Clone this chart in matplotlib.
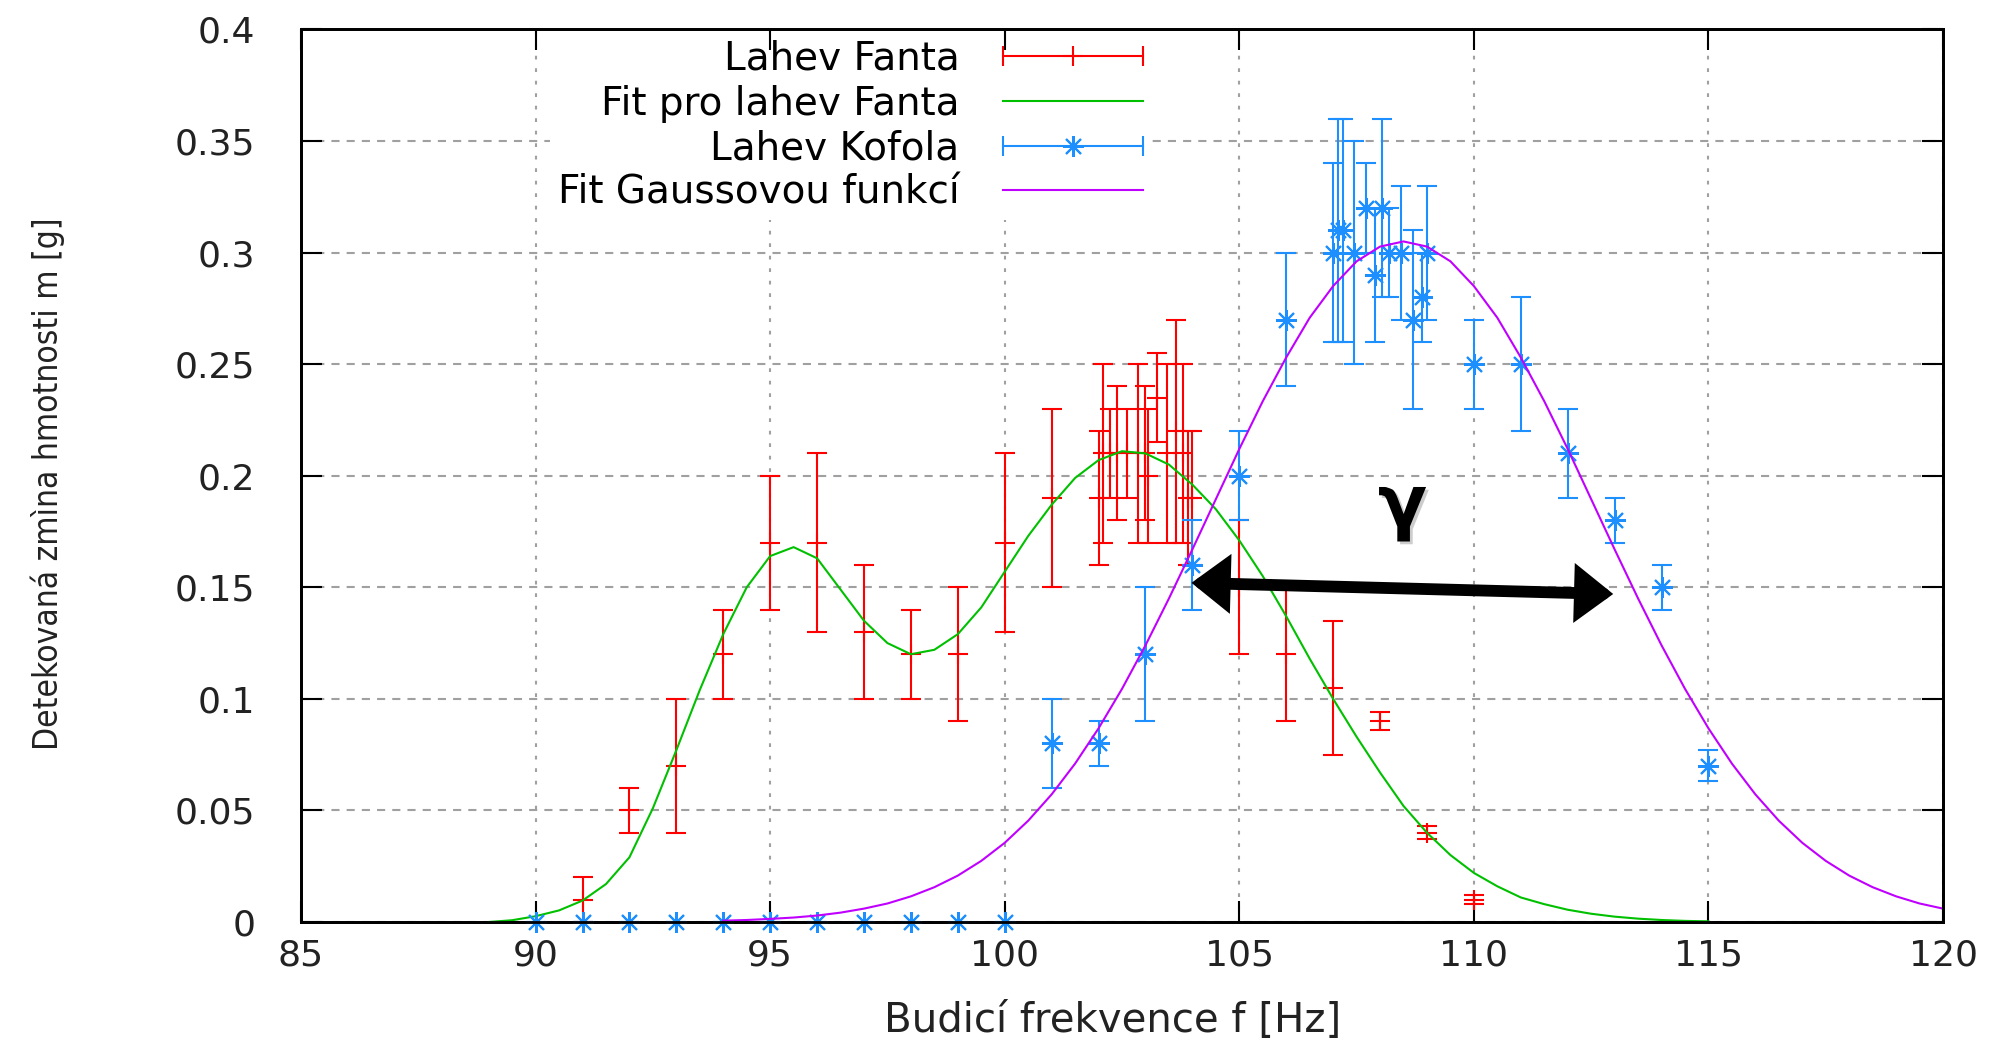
import numpy as np
import matplotlib
matplotlib.use("Agg")
import matplotlib.pyplot as plt
from matplotlib import ticker
from matplotlib.lines import Line2D
from matplotlib.legend_handler import HandlerLine2D
import matplotlib.patheffects as pe

# Lahev Fanta - namerene body
fanta_f = [91, 92, 93, 94, 95, 96, 97, 98, 99, 100, 101,
           102.0, 102.1, 102.25, 102.4, 102.6, 102.85, 103.0, 103.05, 103.25, 103.45, 103.65, 103.8, 103.9, 104.0,
           105, 106, 107, 108, 109, 110]
fanta_m = [0.01, 0.05, 0.07, 0.12, 0.17, 0.17, 0.13, 0.12, 0.12, 0.17, 0.19,
           0.19, 0.21, 0.21, 0.21, 0.21, 0.21, 0.21, 0.20, 0.235, 0.21, 0.22, 0.21, 0.19, 0.19,
           0.15, 0.12, 0.105, 0.09, 0.04, 0.01]
fanta_err = [0.01, 0.01, 0.03, 0.02, 0.03, 0.04, 0.03, 0.02, 0.03, 0.04, 0.04,
             0.03, 0.04, 0.02, 0.03, 0.02, 0.04, 0.03, 0.03, 0.02, 0.04, 0.05, 0.04, 0.03, 0.03,
             0.03, 0.03, 0.03, 0.004, 0.003, 0.002]

# Lahev Kofola - namerene body
kofola_f = [90, 91, 92, 93, 94, 95, 96, 97, 98, 99, 100,
            101, 102, 103, 104, 105, 106,
            107.0, 107.1, 107.2, 107.45, 107.7, 107.9, 108.05, 108.2, 108.45, 108.7, 108.9, 109.0,
            110, 111, 112, 113, 114, 115]
kofola_m = [0, 0, 0, 0, 0, 0, 0, 0, 0, 0, 0,
            0.08, 0.08, 0.12, 0.16, 0.20, 0.27,
            0.30, 0.31, 0.31, 0.30, 0.32, 0.29, 0.32, 0.30, 0.30, 0.27, 0.28, 0.30,
            0.25, 0.25, 0.21, 0.18, 0.15, 0.07]
kofola_err = [0, 0, 0, 0, 0, 0, 0, 0, 0, 0, 0,
              0.02, 0.01, 0.03, 0.02, 0.02, 0.03,
              0.04, 0.05, 0.05, 0.05, 0.02, 0.03, 0.04, 0.02, 0.03, 0.04, 0.02, 0.03,
              0.02, 0.03, 0.02, 0.01, 0.01, 0.007]

# fitove krivky (krok 0.5 Hz)
fit_fanta_f = np.arange(89.0, 115.01, 0.5)
fit_fanta_m = [0.0, 0.0008, 0.0026, 0.0052, 0.0096, 0.017, 0.029, 0.051, 0.077, 0.104,
               0.129, 0.150, 0.164, 0.168, 0.163, 0.149, 0.135, 0.125, 0.120, 0.122,
               0.129, 0.141, 0.157, 0.173, 0.187, 0.199, 0.207, 0.211, 0.210, 0.205,
               0.196, 0.185, 0.171, 0.155, 0.137, 0.118, 0.100, 0.083, 0.067, 0.052,
               0.040, 0.030, 0.022, 0.016, 0.011, 0.008, 0.0055, 0.0037, 0.0024, 0.0015,
               0.0009, 0.0005, 0.0003]
fit_kofola_f = np.arange(94.0, 120.01, 0.5)
fit_kofola_m = [0.0006, 0.0009, 0.0014, 0.0020, 0.0029, 0.0042, 0.0060, 0.0083, 0.0115, 0.0156,
                0.0208, 0.0274, 0.0355, 0.0454, 0.0572, 0.0710, 0.0868, 0.1045, 0.124, 0.145,
                0.167, 0.1895, 0.212, 0.2334, 0.253, 0.2708, 0.285, 0.2961, 0.3027, 0.305,
                0.3027, 0.2961, 0.285, 0.2708, 0.253, 0.2334, 0.212, 0.1895, 0.167, 0.145,
                0.124, 0.1045, 0.0868, 0.0710, 0.0572, 0.0454, 0.0355, 0.0274, 0.0208, 0.0156,
                0.0115, 0.0083, 0.0060]

# sipka pro pološirku gamma
gamma_start = (103.98, 0.152)
gamma_end = (112.97, 0.147)
gamma_text_pos = (108.48, 0.186)

red = '#FF0000'
green = '#00C000'
blue = '#1E8FFF'
violet = '#C000FF'
txt = '#222222'

fig = plt.figure(figsize=(19.91, 10.45), dpi=100)
ax = fig.add_axes([0.1512, 0.1177, 0.8247, 0.8541])

ax.errorbar(fanta_f, fanta_m, yerr=fanta_err, fmt='+', color=red, ms=14, mew=1.5,
            elinewidth=1.5, capsize=7, capthick=1.5, zorder=3)
ax.plot(fit_fanta_f, fit_fanta_m, color=green, lw=1.5, zorder=4)
ax.errorbar(kofola_f, kofola_m, yerr=kofola_err, fmt='none', ecolor=blue,
            elinewidth=1.5, capsize=7, capthick=1.5, zorder=5, clip_on=False)
ax.plot(kofola_f, kofola_m, ls='none', marker=(8, 2, 0), color=blue, ms=15, mew=1.5,
        zorder=5, clip_on=False)
ax.plot(fit_kofola_f, fit_kofola_m, color=violet, lw=1.5, zorder=6)

# gamma
ax.annotate('', xy=gamma_start, xytext=gamma_end,
            arrowprops=dict(arrowstyle='<|-|>,head_length=17,head_width=13', mutation_scale=1,
                            lw=8.5, color='black', shrinkA=0, shrinkB=0, joinstyle='miter'),
            zorder=8)
ax.text(gamma_text_pos[0], gamma_text_pos[1], 'γ', fontsize=52, fontweight='bold',
        ha='center', va='center', color='black', zorder=8,
        path_effects=[pe.withSimplePatchShadow(offset=(2, -2), shadow_rgbFace='gray', alpha=0.4)])

ax.set_xlim(85, 120)
ax.set_ylim(0, 0.4)
ax.set_xticks(np.arange(85, 120.1, 5))
ax.set_yticks(np.arange(0, 0.401, 0.05))
ax.yaxis.set_major_formatter(ticker.FormatStrFormatter('%g'))
ax.xaxis.set_major_formatter(ticker.FormatStrFormatter('%g'))

ax.tick_params(direction='in', length=15, width=1.5, top=False, right=True,
               labelsize=26, labelcolor=txt)
ax.tick_params(axis='x', pad=12)
ax.tick_params(axis='y', pad=33)
for s in ax.spines.values():
    s.set_linewidth(2)

ax.set_axisbelow(True)
ax.xaxis.grid(True, color='#A0A0A0', lw=1.5, linestyle=(0, (1.8, 4.2)))
ax.yaxis.grid(True, color='#A0A0A0', lw=1.5, linestyle=(0, (3.9, 3.4)))

ax.set_xlabel('Budicí frekvence f [Hz]', fontsize=29, color=txt)
ax.xaxis.set_label_coords(0.494, -0.089)
ax.set_ylabel('Detekovaná zmìna hmotnosti m [g]', fontsize=24, color=txt,
              fontstretch='condensed')
ax.yaxis.set_label_coords(-0.144, 0.491)

# legenda: text vlevo, vzorek vpravo
fanta_caps = Line2D([], [], color=red, lw=1.5, marker='|', ms=14, mew=1.5)
fanta_mid = Line2D([], [], color=red, ls='none', marker='+', ms=14, mew=1.5)
kofola_caps = Line2D([], [], color=blue, lw=1.5, marker='|', ms=14, mew=1.5)
kofola_mid = Line2D([], [], color=blue, ls='none', marker=(8, 2, 0), ms=15, mew=1.5)
green_line = Line2D([], [], color=green, lw=1.5)
violet_line = Line2D([], [], color=violet, lw=1.5)

hmap = {
    fanta_caps: HandlerLine2D(numpoints=2, marker_pad=0),
    kofola_caps: HandlerLine2D(numpoints=2, marker_pad=0),
    fanta_mid: HandlerLine2D(numpoints=1),
    kofola_mid: HandlerLine2D(numpoints=1),
}
leg = ax.legend([(fanta_caps, fanta_mid), green_line, (kofola_caps, kofola_mid), violet_line],
                ['Lahev Fanta', 'Fit pro lahev Fanta', 'Lahev Kofola', 'Fit Gaussovou funkcí'],
                handler_map=hmap, loc='upper right', bbox_to_anchor=(0.5177, 0.997),
                borderaxespad=0, markerfirst=False, fontsize=28, handlelength=3.6,
                handletextpad=1.13, labelspacing=0.17, borderpad=0.2, frameon=True,
                fancybox=False, framealpha=1.0)
leg.get_frame().set_linewidth(0)
leg.set_zorder(10)

# horni osa znovu, aby byly vidět ticky nad legendou
ax_top = ax.twiny()
ax_top.set_xlim(ax.get_xlim())
ax_top.set_xticks(ax.get_xticks())
ax_top.tick_params(axis='x', direction='in', length=15, width=1.5, top=True, labeltop=False)
for s in ax_top.spines.values():
    s.set_linewidth(2)

fig.savefig('out.png', dpi=100)
